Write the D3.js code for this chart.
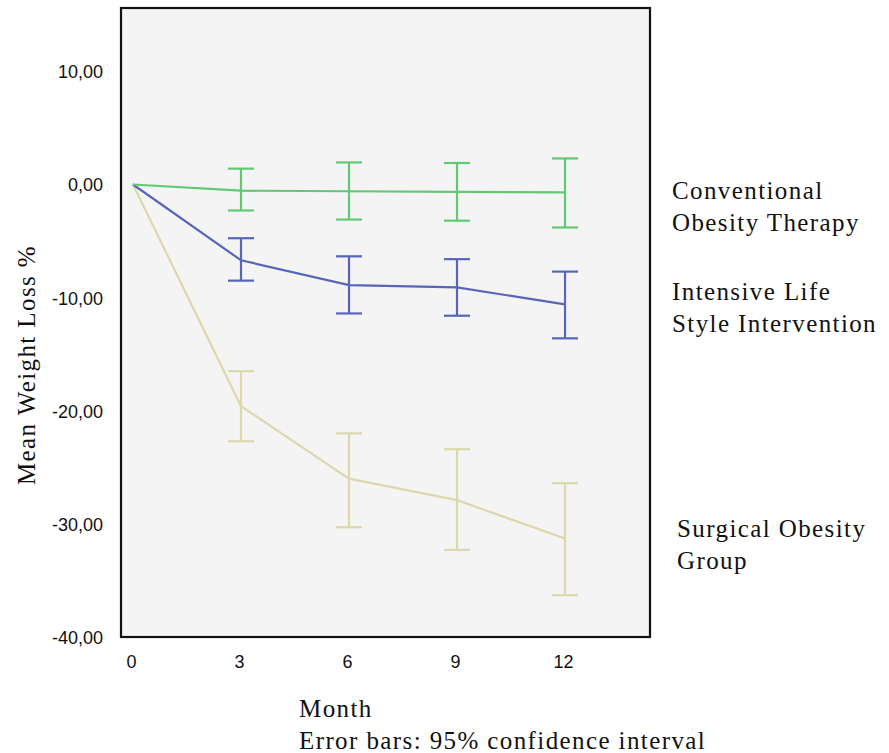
<!DOCTYPE html>
<html>
<head>
<meta charset="utf-8">
<script src="https://cdn.jsdelivr.net/npm/d3@7"></script>
<style>
  body { margin: 0; background: #fff; }
  svg { display: block; }
</style>
</head>
<body>
<div id="chart"></div>
<script>
// chart values
const MONTHS = [0, 3, 6, 9, 12];
const GROUPS = ["Surgical Obesity Group", "Intensive Life Style Intervention", "Conventional Obesity Therapy"];

const SURG_MEAN = [0, -19.6, -26.0, -27.9, -31.3];
const SURG_LOW = [null, -22.7, -30.3, -32.3, -36.3];
const SURG_HIGH = [null, -16.5, -22.0, -23.4, -26.4];

const INT_MEAN = [0, -6.7, -8.9, -9.1, -10.6];
const INT_LOW = [null, -8.5, -11.4, -11.6, -13.6];
const INT_HIGH = [null, -4.75, -6.35, -6.6, -7.7];

const CONV_MEAN = [0, -0.55, -0.6, -0.65, -0.7];
const CONV_LOW = [null, -2.3, -3.1, -3.2, -3.8];
const CONV_HIGH = [null, 1.4, 1.95, 1.9, 2.3];

const Y_TICKS = [10, 0, -10, -20, -30, -40];
const X_TICKS = [0, 3, 6, 9, 12];

// frame
let FRAME_WIDTH = 889;
let FRAME_HEIGHT = 753;
let PLOT = {left: 121, right: 650, top: 8, bottom: 637};

let COLORS = {
    "Surgical Obesity Group": "#ddd8ab",
    "Intensive Life Style Intervention": "#5766b8",
    "Conventional Obesity Therapy": "#62c874"
};

let SERIES = [
    {name: GROUPS[0], mean: SURG_MEAN, low: SURG_LOW, high: SURG_HIGH,
     label: ["Surgical Obesity", "Group"], lx: 677, ly: 537},
    {name: GROUPS[1], mean: INT_MEAN, low: INT_LOW, high: INT_HIGH,
     label: ["Intensive Life", "Style Intervention"], lx: 672, ly: 300},
    {name: GROUPS[2], mean: CONV_MEAN, low: CONV_LOW, high: CONV_HIGH,
     label: ["Conventional", "Obesity Therapy"], lx: 672, ly: 199}
];

const svg = d3.select("#chart")
    .append("svg")
    .attr("width", FRAME_WIDTH)
    .attr("height", FRAME_HEIGHT);

// scales
const X_SCALE = d3.scaleLinear()
    .domain([-0.333, 14.36])
    .range([PLOT.left, PLOT.right]);

const Y_SCALE = d3.scaleLinear()
    .domain([-40, 15.6])
    .range([PLOT.bottom, PLOT.top]);

// plot background + frame
svg.append("rect")
    .attr("x", PLOT.left)
    .attr("y", PLOT.top)
    .attr("width", PLOT.right - PLOT.left)
    .attr("height", PLOT.bottom - PLOT.top)
    .attr("fill", "#f4f4f4")
    .attr("stroke", "#111")
    .attr("stroke-width", 2.2);

// axes (labels only, no ticks)
let fmt = (d) => d3.format(".2f")(d).replace(".", ",").replace("−", "-");

let yAxis = svg.append("g")
    .attr("transform", "translate(" + (PLOT.left - 18) + ",0)")
    .call(d3.axisLeft(Y_SCALE).tickValues(Y_TICKS).tickFormat(fmt).tickSize(0).tickPadding(0));

let xAxis = svg.append("g")
    .attr("transform", "translate(0," + (PLOT.bottom + 14) + ")")
    .call(d3.axisBottom(X_SCALE).tickValues(X_TICKS).tickSize(0).tickPadding(0));

[yAxis, xAxis].forEach((ax) => {
    ax.select(".domain").remove();
    ax.selectAll("text")
        .attr("font-family", "Liberation Sans, Arial, sans-serif")
        .attr("font-size", "18px")
        .attr("fill", "#111");
});
yAxis.selectAll("text").attr("dy", "0.36em");
xAxis.selectAll("text").attr("dy", "0.95em").attr("dx", "-2");

// lines and error bars
const line = d3.line()
    .x((d, i) => X_SCALE(MONTHS[i]))
    .y((d) => Y_SCALE(d));

SERIES.forEach((s) => {
    let g = svg.append("g")
        .attr("stroke", COLORS[s.name])
        .attr("fill", "none")
        .attr("stroke-width", 2.2);

    g.append("path")
        .attr("d", line(s.mean));

    MONTHS.forEach((m, i) => {
        if (s.low[i] == null) return;
        let cx = X_SCALE(m);
        g.append("line")
            .attr("x1", cx).attr("x2", cx)
            .attr("y1", Y_SCALE(s.high[i]))
            .attr("y2", Y_SCALE(s.low[i]));
        [s.high[i], s.low[i]].forEach((v) => {
            g.append("line")
                .attr("x1", cx - 13).attr("x2", cx + 13)
                .attr("y1", Y_SCALE(v)).attr("y2", Y_SCALE(v));
        });
    });

    // group label to the right
    let t = svg.append("text")
        .attr("x", s.lx)
        .attr("y", s.ly)
        .attr("font-family", "Liberation Serif, Times New Roman, serif")
        .attr("font-size", "25px")
        .attr("letter-spacing", "1.4px")
        .attr("fill", "#111");
    s.label.forEach((txt, i) => {
        t.append("tspan")
            .attr("x", s.lx)
            .attr("dy", i == 0 ? 0 : 32)
            .text(txt);
    });
});

// axis titles
let serif = "Liberation Serif, Times New Roman, serif";

svg.append("text")
    .attr("transform", "translate(35,365) rotate(-90)")
    .attr("text-anchor", "middle")
    .attr("font-family", serif)
    .attr("font-size", "25px")
    .attr("letter-spacing", "1.4px")
    .attr("fill", "#111")
    .text("Mean Weight Loss %");

svg.append("text")
    .attr("x", 299)
    .attr("y", 717)
    .attr("font-family", serif)
    .attr("font-size", "25px")
    .attr("letter-spacing", "1.4px")
    .attr("fill", "#111")
    .text("Month");

svg.append("text")
    .attr("x", 299)
    .attr("y", 749)
    .attr("font-family", serif)
    .attr("font-size", "25px")
    .attr("letter-spacing", "1.4px")
    .attr("fill", "#111")
    .text("Error bars: 95% confidence interval");
</script>
</body>
</html>
